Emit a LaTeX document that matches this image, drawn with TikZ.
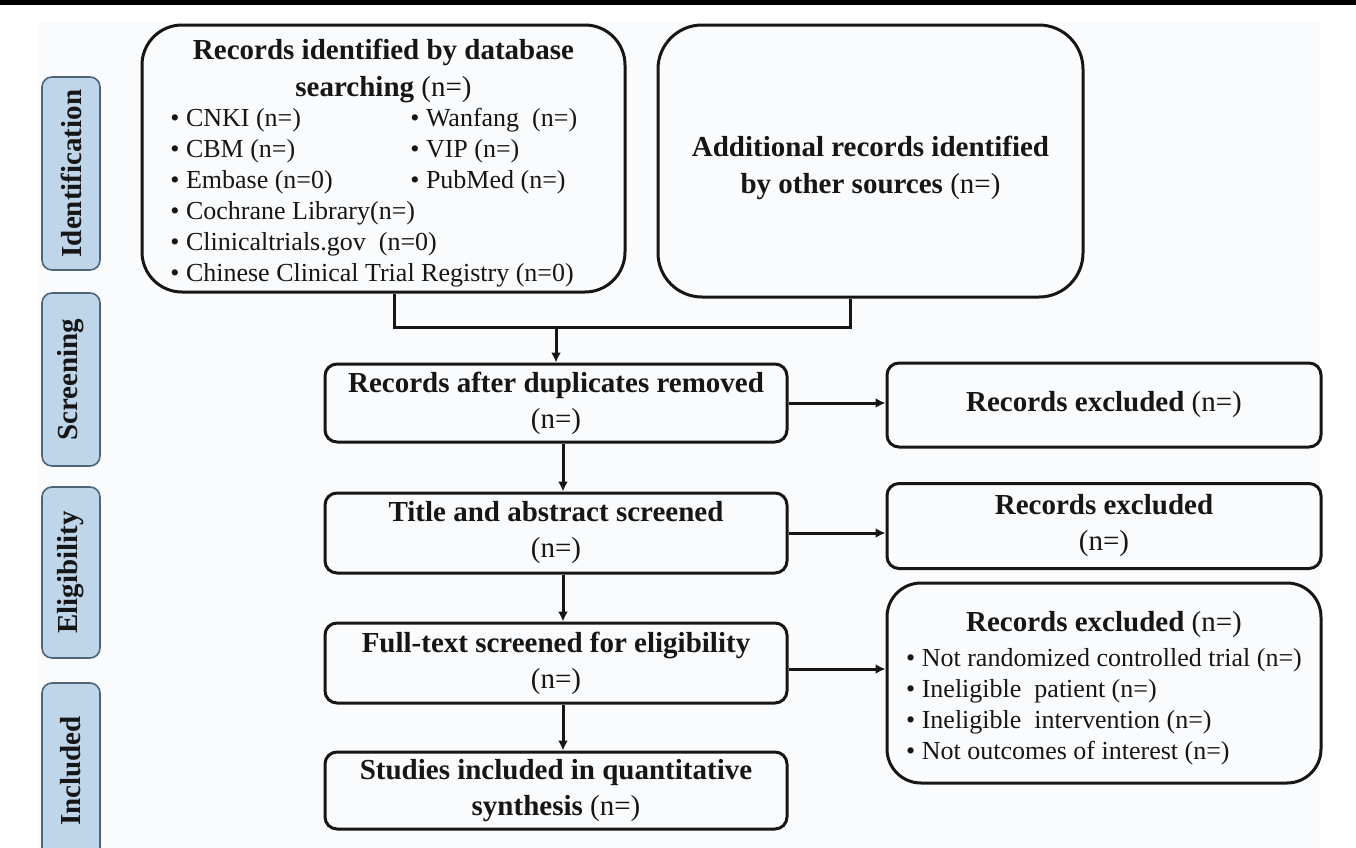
\documentclass[tikz,border=0pt]{standalone}
\usepackage{fontspec}
\setmainfont{Liberation Serif}
\usepackage{tikz}
\usetikzlibrary{arrows.meta,positioning}
\definecolor{stagefill}{RGB}{190,213,234}
\definecolor{stageline}{RGB}{80,100,120}
\definecolor{paper}{RGB}{250,251,253}
\definecolor{ink}{RGB}{22,22,22}

\begin{document}
\begin{tikzpicture}[x=1pt,y=-1pt,
    flowbox/.style={draw=ink,line width=1.5pt,rounded corners=6pt,align=center,inner sep=2pt,
      font=\fontsize{14.5}{18}\selectfont,text=ink},
    roundbox/.style={flowbox,rounded corners=20pt},
    boxtext/.style={align=center,text=ink,font=\fontsize{14.5}{18.5}\selectfont},
    stagelabel/.style={draw=stageline,line width=0.8pt,fill=stagefill,rounded corners=5pt,
      minimum height=29pt,rotate=90,font=\fontsize{14.5}{17}\selectfont\bfseries,text=ink},
    dbitem/.style={anchor=west,inner sep=0pt,font=\fontsize{13}{15.5}\selectfont,text=ink},
    arr/.style={draw=ink,line width=1.5pt,-{Latex[length=5pt,width=5pt]}}]
    \useasboundingbox (0,0) rectangle (678,423.5);
    \fill[black] (0,0) rectangle (678,2.3);
    \fill[paper] (19.5,11) rectangle (660,430);

    \node[stagelabel,minimum width=96.5pt] (ident) at (35.5,86.75) {Identification};
    \node[stagelabel,minimum width=86.5pt] (screen) at (35.5,189.75) {Screening};
    \node[stagelabel,minimum width=85.5pt] (elig) at (35.5,286.25) {Eligibility};
    \node[stagelabel,minimum width=88pt] (incl) at (35.5,385.5) {Included};

    \node[roundbox,minimum width=241.5pt,minimum height=133.5pt] (dbs) at (191.75,79.25) {};
    \node[boxtext] (dbstitle) at (191.75,35.5)
      {\textbf{Records identified by database}\\\textbf{searching} (n=)};
    \foreach \txt [count=\i] in {CNKI (n=), CBM (n=), Embase (n=0), Cochrane Library(n=),
        Clinicaltrials.gov\ \ (n=0), Chinese Clinical Trial Registry (n=0)}
      \node[dbitem] (dbl\i) at (85,{60+15.5*(\i-1)}) {\textbullet\ \txt};
    \foreach \txt [count=\i] in {Wanfang\ \ (n=), VIP (n=), PubMed (n=)}
      \node[dbitem] (dbr\i) at (205,{60+15.5*(\i-1)}) {\textbullet\ \txt};

    \node[roundbox,rounded corners=22pt,minimum width=212.5pt,minimum height=136pt] (other) at (435.25,80.5) {};
    \node[boxtext] (othertxt) at (435.25,84)
      {\textbf{Additional records identified}\\\textbf{by other sources} (n=)};

    \node[flowbox,minimum width=231pt,minimum height=39pt] (dup) at (278,201.5)
      {\textbf{Records after duplicates removed}\\(n=)};
    \node[flowbox,minimum width=217pt,minimum height=42pt] (exc1) at (552,202.5)
      {\textbf{Records excluded} (n=)};
    \node[flowbox,minimum width=231pt,minimum height=40pt] (tiab) at (278,266.5)
      {\textbf{Title and abstract screened}\\(n=)};
    \node[flowbox,minimum width=217pt,minimum height=42.5pt] (exc2) at (552,263)
      {\textbf{Records excluded}\\(n=)};
    \node[flowbox,minimum width=231pt,minimum height=40pt] (full) at (278,331.5)
      {\textbf{Full-text screened for eligibility}\\(n=)};
    \node[flowbox,rounded corners=17pt,minimum width=217pt,minimum height=100pt] (exc3) at (552,341.5) {};
    \node[boxtext] (exc3txt) at (552,345)
      {\textbf{Records excluded} (n=)\\[-1pt]
       {\fontsize{13}{15.5}\selectfont\begin{tabular}[t]{@{}l@{}}
       \textbullet\ Not randomized controlled trial (n=)\\
       \textbullet\ Ineligible\ \ patient (n=)\\
       \textbullet\ Ineligible\ \ intervention (n=)\\
       \textbullet\ Not outcomes of interest (n=)
       \end{tabular}}};
    \node[flowbox,minimum width=231pt,minimum height=38.5pt] (synth) at (278,395.25)
      {\textbf{Studies included in quantitative}\\\textbf{synthesis} (n=)};

    \coordinate (joinA) at (197,163.5);
    \coordinate (joinB) at (425,163.5);
    \coordinate (fullout) at ([yshift=-3pt]full.east);
    \draw[draw=ink,line width=1.5pt] (dbs.south -| joinA) -- (joinA) -- (joinB) -- (other.south -| joinB);
    \draw[arr] (joinA -| dup.north) -- (dup.north);
    \draw[arr] (dup.east) -- (exc1.west |- dup.east);
    \draw[arr] ([xshift=3.5pt]dup.south) -- ([xshift=3.5pt]tiab.north);
    \draw[arr] (tiab.east) -- (exc2.west |- tiab.east);
    \draw[arr] ([xshift=3.5pt]tiab.south) -- ([xshift=3.5pt]full.north);
    \draw[arr] (fullout) -- (fullout -| exc3.west);
    \draw[arr] ([xshift=3.5pt]full.south) -- ([xshift=3.5pt]synth.north);
\end{tikzpicture}
\end{document}
